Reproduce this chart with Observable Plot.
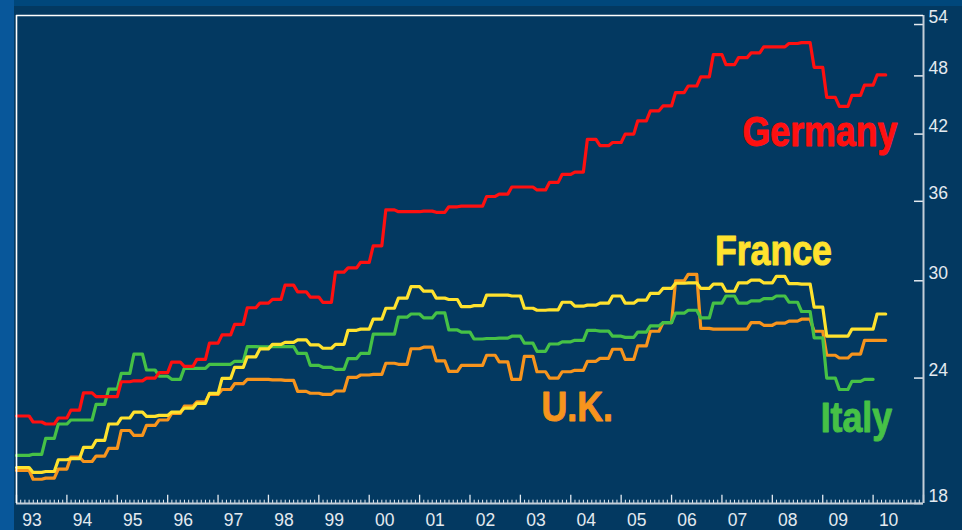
<!DOCTYPE html>
<html><head><meta charset="utf-8">
<script src="https://cdn.jsdelivr.net/npm/d3@7"></script>
<script src="https://cdn.jsdelivr.net/npm/@observablehq/plot@0.6"></script>
<style>
html,body{margin:0;padding:0;background:#033961;}
#chart{width:962px;height:530px;position:relative;overflow:hidden;background:
 linear-gradient(to right,#08579a 0,#08579a 14px,transparent 14px),
 linear-gradient(to bottom,#00477b 0,#00477b 6px,transparent 6px), #033961;}
#chart svg{display:block;background:transparent;}
</style></head><body><div id="chart"></div>
<script>
// Quarterly values, 1993 Q1 onward
const startYear = 1993;
const germany = [22.0,21.7,21.6,21.9,22.3,23.2,23.0,23.0,23.8,23.85,24.0,24.3,24.9,24.65,25.05,26.0,26.5,27.15,28.2,28.5,28.75,29.7,29.25,28.9,28.55,30.6,30.9,31.3,32.5,35.3,35.15,35.15,35.2,35.1,35.55,35.6,35.6,36.4,36.6,37.2,37.2,36.95,37.6,38.3,38.5,41.5,40.9,41.2,42.0,43.3,44.3,44.8,46.2,46.9,47.9,50.4,49.25,50.05,50.6,51.3,51.3,51.7,51.8,48.95,45.7,44.75,45.9,47.0,48.1];
const france = [19.55,19.33,19.37,19.9,19.95,20.47,20.8,21.6,21.9,22.2,21.98,22.03,22.2,22.4,22.65,23.17,23.98,24.6,25.2,25.66,25.93,26.05,26.2,25.9,25.7,25.93,26.78,26.85,27.47,28.17,28.83,29.6,29.3,28.83,28.74,28.27,28.34,29.03,29.03,28.97,28.17,28.04,28.07,28.56,28.3,28.37,28.5,28.97,28.5,28.7,29.15,29.48,29.83,29.86,29.48,29.77,29.29,29.86,30.04,29.86,30.3,29.8,29.77,28.24,26.42,26.42,26.85,26.85,27.8];
const italy = [20.1,20.15,20.9,21.6,21.8,21.8,22.6,23.4,24.26,25.35,24.45,24.1,23.93,24.54,24.54,24.77,24.77,24.94,25.8,25.78,25.8,25.8,25.4,24.71,24.6,24.48,25.1,25.4,26.54,26.54,27.6,27.8,27.55,27.87,26.8,26.67,26.25,26.28,26.3,26.42,26.0,25.52,25.95,26.08,26.17,26.77,26.73,26.42,26.35,26.67,27.05,27.25,27.85,28.04,27.55,28.5,28.97,28.5,28.65,28.8,28.97,28.56,27.96,26.32,24.0,23.38,23.82,23.93];
const uk = [19.42,19.03,19.08,19.48,20.02,19.82,20.07,20.43,21.28,21.04,21.53,21.8,22.13,22.5,22.73,23.12,23.38,23.7,23.93,23.93,23.9,23.87,23.28,23.18,23.12,23.3,24.04,24.17,24.2,24.83,24.77,25.67,25.76,24.97,24.37,24.71,24.71,25.29,24.91,23.93,25.23,24.35,24.0,24.35,24.43,24.94,25.11,25.64,25.05,25.84,26.72,27.25,30.0,30.45,26.9,26.85,26.85,26.85,27.25,27.09,27.22,27.35,27.47,26.72,25.29,25.13,25.36,26.17,26.17];
const yTicks = [18, 24, 30, 36, 42, 48, 54];
const years = d3.range(1993, 2011);
const labels = [
  {name: "Germany", t: 2007.41, v: 40.9},
  {name: "France", t: 2006.86, v: 31.1},
  {name: "U.K.", t: 2003.42, v: 21.73},
  {name: "Italy", t: 2008.96, v: 21.23}
];
const colors = {"Germany": "#ff1010", "France": "#ffe22e", "Italy": "#46c146", "U.K.": "#f7941d"};

const series = [
  {name: "U.K.", values: uk},
  {name: "Italy", values: italy},
  {name: "France", values: france},
  {name: "Germany", values: germany}
];

// step curve with short sloped risers, each value held through its quarter
function stepRamp(context) {
  const ramp = 4;
  let x0, y0, i, dx;
  return {
    areaStart() {}, areaEnd() {},
    lineStart() { i = 0; },
    lineEnd() { if (i > 1) context.lineTo(x0 + dx, y0); },
    point(x, y) {
      x = +x; y = +y;
      if (i === 0) context.moveTo(x, y);
      else { dx = x - x0; context.lineTo(x, y0); context.lineTo(x + ramp, y); }
      x0 = x; y0 = y; i++;
    }
  };
}

const W = 962, H = 530, mL = 16, mR = 39, mT = 15, mB = 27;
const frameW = W - mL - mR, frameH = H - mT - mB;
const yTop = 55.13;
const months = d3.range(0, 18 * 12 + 1).map(m => 1993 + m / 12);
const minor = months.filter((d, i) => i % 12 !== 0);
const major = months.filter((d, i) => i % 12 === 0);
const axisColor = "#e4eaf0";

const chart = Plot.plot({
  width: W, height: H,
  marginLeft: mL, marginRight: mR, marginTop: mT, marginBottom: mB,
  x: {domain: [1993, 2011], axis: null},
  y: {type: "log", domain: [18, yTop], axis: null},
  style: {background: "transparent", color: axisColor, fontFamily: "'Liberation Sans', Arial, sans-serif"},
  marks: [
    Plot.tickX(minor, {x: d => d, stroke: axisColor, strokeWidth: 1, insetTop: frameH - 3.3}),
    Plot.tickX(major, {x: d => d, stroke: axisColor, strokeWidth: 1.3, insetTop: frameH - 8.3}),
    Plot.tickY(yTicks, {y: d => d, stroke: axisColor, strokeWidth: 1.5, insetLeft: frameW - 9}),
    ...series.map(s => Plot.lineY(s.values, {
      x: (d, i) => startYear + i / 4, y: d => d,
      stroke: colors[s.name], strokeWidth: 3.2, curve: stepRamp, strokeLinejoin: "round"
    })),
    Plot.ruleX([2011], {stroke: "#c4ced8", strokeWidth: 2}),
    Plot.ruleY([18], {stroke: "#c4ced8", strokeWidth: 2}),
    Plot.ruleX([1993], {stroke: "#ffffff", strokeWidth: 1.6}),
    Plot.ruleY([yTop], {stroke: "#ffffff", strokeWidth: 1.6}),
    Plot.text(yTicks, {y: d => d, text: d => String(d), frameAnchor: "right", textAnchor: "start",
      lineAnchor: "bottom", dx: 5, dy: -2, fontSize: 17.5, fill: axisColor}),
    Plot.text(years, {x: d => d, text: d => String(d % 100).padStart(2, "0"), frameAnchor: "bottom",
      lineAnchor: "bottom", dx: 15.5, dy: 22.5, fontSize: 17.5, fill: axisColor}),
    Plot.text(labels, {x: "t", y: "v", text: "name", fill: d => colors[d.name], stroke: d => colors[d.name],
      strokeWidth: 1, textAnchor: "start", lineAnchor: "bottom", fontSize: 42, fontWeight: "bold",
      fontFamily: "'Liberation Sans', Arial, sans-serif"})
  ]
});
// condense the series labels horizontally (narrow bold face)
const names = new Set(labels.map(d => d.name));
d3.select(chart).selectAll("text").filter(function() { return names.has(this.textContent); }).each(function() {
  const bb = this.getBBox ? null : null;
  const xAttr = this.getAttribute("x");
  const t = this.getAttribute("transform") || "";
  if (xAttr != null && xAttr !== "") {
    const x = +xAttr;
    this.setAttribute("transform", `${t} translate(${x},0) scale(0.85,1) translate(${-x},0)`.trim());
  } else {
    this.setAttribute("transform", `${t} scale(0.85,1)`.trim());
  }
});
document.getElementById("chart").appendChild(chart);
</script>
</body></html>
